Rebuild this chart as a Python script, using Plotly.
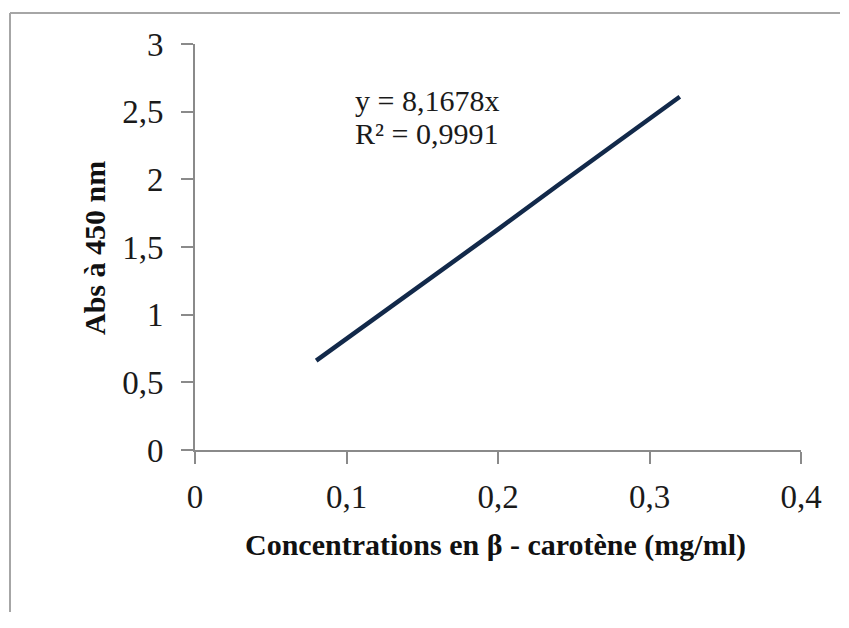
import plotly.graph_objects as go

# Data
concentrations = [0.08, 0.12, 0.16, 0.20, 0.24, 0.28, 0.32]
absorbance = [0.66, 0.98, 1.31, 1.63, 1.96, 2.29, 2.61]

x_tick_vals = [0, 0.1, 0.2, 0.3, 0.4]
x_tick_text = ["0", "0,1", "0,2", "0,3", "0,4"]
y_tick_vals = [0, 0.5, 1, 1.5, 2, 2.5, 3]
y_tick_text = ["0", "0,5", "1", "1,5", "2", "2,5", "3"]

equation_text = "y = 8,1678x"
r2_text = "R² = 0,9991"
x_title = "Concentrations en β - carotène (mg/ml)"
y_title = "Abs à 450 nm"

FONT = "Liberation Serif, Times New Roman, serif"
AXIS_GRAY = "#8a8a8a"

fig = go.Figure()
fig.add_trace(go.Scatter(
    x=concentrations, y=absorbance, mode="lines",
    line=dict(color="#12294a", width=4.5),
    showlegend=False, hoverinfo="skip",
))

axis_common = dict(
    showgrid=False, zeroline=False, showline=True,
    linecolor=AXIS_GRAY, linewidth=2,
    ticks="outside", ticklen=12, tickwidth=2, tickcolor=AXIS_GRAY,
    tickfont=dict(family=FONT, size=33, color="#1a1a1a"),
    fixedrange=True,
)

fig.update_xaxes(range=[0, 0.4], tickvals=x_tick_vals, ticktext=x_tick_text,
                 ticklabelstandoff=4, **axis_common)
fig.update_yaxes(range=[0, 3], tickvals=y_tick_vals, ticktext=y_tick_text,
                 ticklabelstandoff=11, **axis_common)

# Plot area in page pixels: x 195..801, y 44..450 (page has an 8px body margin)
def px_x(px):
    return (px - 195) / 606

def px_y(py):
    return (450 - py) / 406

annotations = [
    dict(text=equation_text, x=px_x(353), y=px_y(100), xanchor="left", yanchor="middle",
         font=dict(family=FONT, size=30, color="#1a1a1a")),
    dict(text=r2_text, x=px_x(353), y=px_y(134), xanchor="left", yanchor="middle",
         font=dict(family=FONT, size=30, color="#1a1a1a")),
    dict(text="<b>" + x_title + "</b>", x=px_x(495), y=px_y(545), xanchor="center", yanchor="middle",
         font=dict(family=FONT, size=30, color="#111111")),
    dict(text="<b>" + y_title + "</b>", x=px_x(94), y=px_y(248), xanchor="center", yanchor="middle",
         textangle=-90, font=dict(family=FONT, size=30, color="#111111")),
]
for a in annotations:
    a.update(xref="paper", yref="paper", showarrow=False)

frame_style = dict(color="#a6a6a6", width=2)
fig.update_layout(
    width=833, height=604,
    margin=dict(l=187, r=40, t=36, b=162, autoexpand=False),
    paper_bgcolor="white", plot_bgcolor="white",
    annotations=annotations,
    shapes=[
        dict(type="line", xref="paper", yref="paper",
             x0=px_x(10), x1=px_x(840), y0=px_y(13), y1=px_y(13),
             line=frame_style, layer="below"),
        dict(type="line", xref="paper", yref="paper",
             x0=px_x(10), x1=px_x(10), y0=px_y(13), y1=px_y(660),
             line=frame_style, layer="below"),
    ],
)

fig.write_html("out.html", config={"displayModeBar": False})
